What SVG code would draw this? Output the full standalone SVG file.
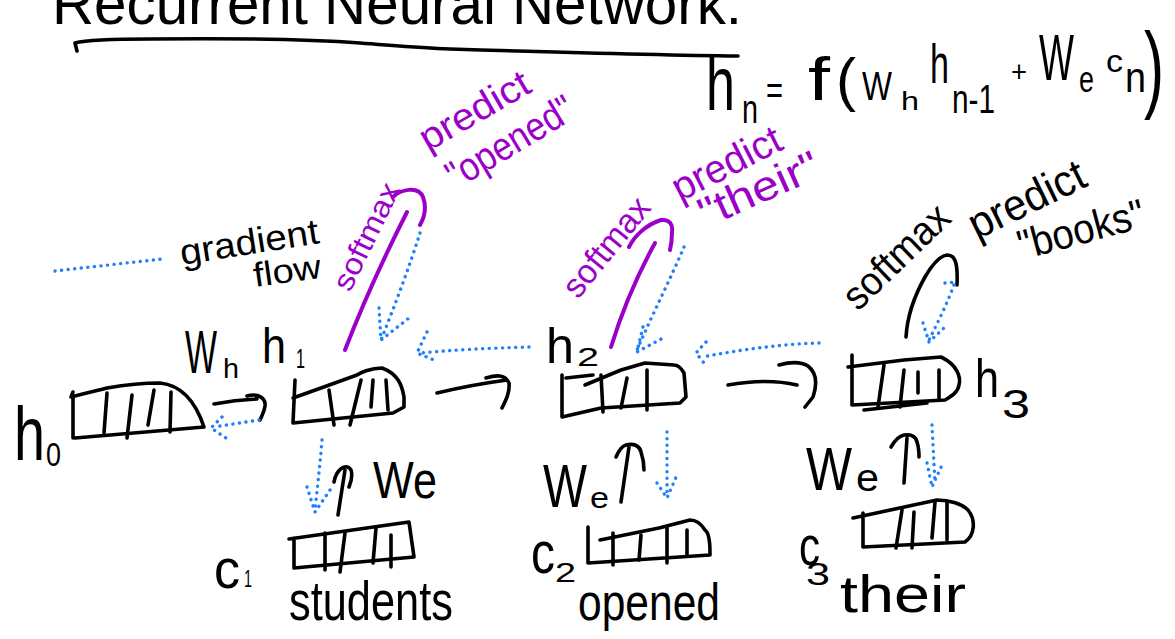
<svg xmlns="http://www.w3.org/2000/svg" width="1175" height="639" viewBox="0 0 1175 639">
<style>
text{font-family:"Liberation Sans",Arial,sans-serif;fill:#000}
.pt{fill:#9b00c8}
.k{fill:none;stroke:#000;stroke-width:3.6;stroke-linecap:round;stroke-linejoin:round}
.pu{fill:none;stroke:#9b00c8;stroke-width:4;stroke-linecap:round;stroke-linejoin:round}
.g{fill:none;stroke:#1e7fff;stroke-width:3.4;stroke-dasharray:0.1 6.5;stroke-linecap:round;stroke-linejoin:round}
</style>
<rect width="1175" height="639" fill="#fff"/>

<g id="title">
<text x="52" y="24" font-size="60" textLength="690" lengthAdjust="spacingAndGlyphs">Recurrent Neural Network:</text>
<path class="k" d="M77,51 L75,43 Q90,39 150,39 C250,38 320,40 360,43 C400,46 420,48 450,49 C550,52 650,55 738,56"/>
</g>

<g id="formula">
<text x="706" y="110" font-size="76" textLength="29" lengthAdjust="spacingAndGlyphs">h</text>
<text x="742" y="123" font-size="40" textLength="16" lengthAdjust="spacingAndGlyphs">n</text>
<text x="766" y="104" font-size="40" textLength="17" lengthAdjust="spacingAndGlyphs">=</text>
<text x="808" y="100" font-size="62" textLength="22" lengthAdjust="spacingAndGlyphs">f</text>
<text x="836" y="100" font-size="60" textLength="20" lengthAdjust="spacingAndGlyphs">(</text>
<text x="862" y="100" font-size="40" textLength="30" lengthAdjust="spacingAndGlyphs">W</text>
<text x="901" y="110" font-size="26" textLength="18" lengthAdjust="spacingAndGlyphs">h</text>
<text x="930" y="83" font-size="55" textLength="19" lengthAdjust="spacingAndGlyphs">h</text>
<text x="952" y="113" font-size="40" textLength="43" lengthAdjust="spacingAndGlyphs">n-1</text>
<text x="1011" y="82" font-size="30" textLength="16" lengthAdjust="spacingAndGlyphs">+</text>
<text x="1039" y="80" font-size="64" textLength="35" lengthAdjust="spacingAndGlyphs">W</text>
<text x="1079" y="92" font-size="36" textLength="15" lengthAdjust="spacingAndGlyphs">e</text>
<text x="1106" y="72" font-size="32" textLength="17" lengthAdjust="spacingAndGlyphs">c</text>
<text x="1125" y="92" font-size="42" textLength="21" lengthAdjust="spacingAndGlyphs">n</text>
<text x="1144" y="100" font-size="96" textLength="20" lengthAdjust="spacingAndGlyphs">)</text>
</g>

<g id="legend">
<path class="g" d="M55,271 L162,259"/>
<text transform="translate(182,265) rotate(-9)" font-size="36" textLength="140" lengthAdjust="spacingAndGlyphs">gradient</text>
<text transform="translate(255,287) rotate(-8)" font-size="34" textLength="68" lengthAdjust="spacingAndGlyphs">flow</text>
</g>

<g id="h0">
<path class="k" d="M71,397 L73,392 M73,398 L73,438 M71,397 C90,392 100,390 107,388 C130,384 150,383 160,383 C180,385 195,400 204,427 L75,438"/>
<path class="k" d="M107,393 L104,433 M132,395 L127,438 M154,390 L148,425 M171,392 L170,432"/>
<text x="14" y="460" font-size="76" textLength="31" lengthAdjust="spacingAndGlyphs">h</text>
<text x="46" y="466" font-size="34" textLength="15" lengthAdjust="spacingAndGlyphs">0</text>
</g>

<g id="h1">
<path class="k" d="M295,380 L293,423 L393,413 L404,407 L404,397 C402,385 398,374 382,368 C370,368 360,373 357,375 L321,388 L293,398"/>
<path class="k" d="M329,390 L334,425 M361,380 L350,425 M373,380 L371,407 M386,380 L388,410"/>
<text x="185" y="373" font-size="62" textLength="32" lengthAdjust="spacingAndGlyphs">W</text>
<text x="223" y="378" font-size="28" textLength="16" lengthAdjust="spacingAndGlyphs">h</text>
<text x="262" y="363" font-size="50" textLength="24" lengthAdjust="spacingAndGlyphs">h</text>
<text x="296" y="368" font-size="28" textLength="9" lengthAdjust="spacingAndGlyphs">1</text>
</g>

<g id="h2">
<path class="k" d="M566,378 L593,375 M562,375 L562,417 L601,408 L680,403 L686,397 L684,373 C680,366 676,365 674,365 L645,363 L621,370 L585,385"/>
<path class="k" d="M601,375 L603,412 M627,378 L621,408 M647,370 L647,410"/>
<text x="546" y="363" font-size="50" textLength="28" lengthAdjust="spacingAndGlyphs">h</text>
<text x="577" y="366" font-size="26" textLength="22" lengthAdjust="spacingAndGlyphs">2</text>
</g>

<g id="h3">
<path class="k" d="M852,355 L852,405 L945,400 C952,396 958,392 959,385 C961,378 958,365 941,357 L904,360 L848,367 M864,410 L927,403"/>
<path class="k" d="M884,365 L878,407 M904,370 L900,407 M918,372 L918,393 M939,370 L939,400"/>
<text x="975" y="397" font-size="54" textLength="24" lengthAdjust="spacingAndGlyphs">h</text>
<text x="1002" y="418" font-size="40" textLength="28" lengthAdjust="spacingAndGlyphs">3</text>
</g>

<g id="c1">
<path class="k" d="M289,539 L409,522 L414,557 L294,568 L294,538"/>
<path class="k" d="M325,533 L325,570 M345,533 L340,572 M376,528 L373,563 M391,535 L391,567"/>
<text x="214" y="588" font-size="56" textLength="26" lengthAdjust="spacingAndGlyphs">c</text>
<text x="244" y="587" font-size="24" textLength="8" lengthAdjust="spacingAndGlyphs">1</text>
<text x="289" y="620" font-size="56" textLength="164" lengthAdjust="spacingAndGlyphs">students</text>
<text x="373" y="498" font-size="52" textLength="64" lengthAdjust="spacingAndGlyphs">We</text>
</g>

<g id="c2">
<path class="k" d="M588,527 L588,563 L710,555 L710,553 C710,540 708,532 705,530 C700,522 694,520 690,520 L659,528 L600,540"/>
<path class="k" d="M613,533 L613,565 M641,535 L639,560 M667,527 L667,563 M687,530 L687,555"/>
<text x="531" y="573" font-size="60" textLength="24" lengthAdjust="spacingAndGlyphs">c</text>
<text x="555" y="582" font-size="28" textLength="21" lengthAdjust="spacingAndGlyphs">2</text>
<text x="578" y="620" font-size="52" textLength="142" lengthAdjust="spacingAndGlyphs">opened</text>
<text x="543" y="507" font-size="62" textLength="44" lengthAdjust="spacingAndGlyphs">W</text>
<text x="590" y="508" font-size="30" textLength="19" lengthAdjust="spacingAndGlyphs">e</text>
</g>

<g id="c3">
<path class="k" d="M853,518 L937,500 C950,500 962,504 968,510 C976,520 975,535 965,542 L863,547 L863,513"/>
<path class="k" d="M902,510 L896,548 M914,512 L912,548 M935,502 L932,538 M947,502 L947,540"/>
<text x="799" y="565" font-size="56" textLength="21" lengthAdjust="spacingAndGlyphs">c</text>
<text x="806" y="585" font-size="32" textLength="24" lengthAdjust="spacingAndGlyphs">3</text>
<text x="840" y="612" font-size="52" textLength="126" lengthAdjust="spacingAndGlyphs">their</text>
<text x="806" y="490" font-size="62" textLength="46" lengthAdjust="spacingAndGlyphs">W</text>
<text x="856" y="491" font-size="38" textLength="23" lengthAdjust="spacingAndGlyphs">e</text>
</g>

<g id="softmax1">
<text class="pt" transform="translate(350,293) rotate(-64)" font-size="30" textLength="116" lengthAdjust="spacingAndGlyphs">softmax</text>
<text class="pt" transform="translate(428,152) rotate(-30)" font-size="38" textLength="122" lengthAdjust="spacingAndGlyphs">predict</text>
<text class="pt" transform="translate(456,190) rotate(-31)" font-size="40" textLength="142" lengthAdjust="spacingAndGlyphs">"opened"</text>
</g>

<g id="softmax2">
<text class="pt" transform="translate(578,300) rotate(-51)" font-size="34" textLength="118" lengthAdjust="spacingAndGlyphs">softmax</text>
<text class="pt" transform="translate(680,202) rotate(-27)" font-size="40" textLength="118" lengthAdjust="spacingAndGlyphs">predict</text>
<text class="pt" transform="translate(706,228) rotate(-24)" font-size="42" textLength="128" lengthAdjust="spacingAndGlyphs">"their"</text>
</g>

<g id="softmax3">
<text transform="translate(858,312) rotate(-44)" font-size="40" textLength="132" lengthAdjust="spacingAndGlyphs">softmax</text>
<text transform="translate(977,240) rotate(-26)" font-size="44" textLength="125" lengthAdjust="spacingAndGlyphs">predict</text>
<text transform="translate(1022,260) rotate(-15)" font-size="42" textLength="130" lengthAdjust="spacingAndGlyphs">"books"</text>
</g>

<g id="connectors">
<path class="k" d="M214,404 Q235,400 257,399 M247,396 C258,393 266,398 265,406 C264,412 262,416 260,420"/>
<path class="k" d="M437,393 Q470,385 507,380 M486,378 C496,375 505,374 509,383 C510,392 506,400 502,408"/>
<path class="k" d="M728,385 Q767,378 797,385 M779,365 C790,362 800,361 808,366 C817,373 817,385 813,397 L805,407"/>
<path class="k" d="M338,515 L345,470 M334,482 C336,470 346,462 351,470 C353,476 351,482 349,487"/>
<path class="k" d="M621,502 L629,447 M616,457 C619,450 622,446 626,445 C634,443 640,446 641,452 C643,458 644,465 644,470"/>
<path class="k" d="M904,483 L907,438 M891,447 C895,440 899,436 904,435 C910,434 916,436 917,442 C919,448 919,452 919,457"/>
<path class="k" d="M906,337 C907,320 912,300 925,277 C932,265 940,256 947,255 C955,255 958,262 957,285"/>
<path class="pu" d="M345,350 Q370,285 407,212 M393,197 C400,190 418,185 423,197 C427,208 424,218 420,225"/>
<path class="pu" d="M611,347 Q628,292 655,243 M629,247 C634,237 645,225 661,220 C670,219 673,225 672,232 C672,240 671,246 670,250"/>
<path class="g" d="M259,420 L214,427 M222,417 L211,428 L226,438"/>
<path class="g" d="M529,347 C490,348 450,350 421,353 M427,332 L417,353 L434,360"/>
<path class="g" d="M420,233 C410,265 395,305 381,340 M379,308 L381,340 L409,318"/>
<path class="g" d="M322,440 C320,465 317,490 315,510 M307,487 L315,512 L330,490"/>
<path class="g" d="M819,343 C780,344 740,350 702,357 M706,342 L696,353 L704,363"/>
<path class="g" d="M684,247 C670,280 652,315 637,350 M643,327 L637,352 L663,338"/>
<path class="g" d="M667,432 L667,497 M657,483 L667,498 L677,475"/>
<path class="g" d="M945,283 L955,282 C948,302 938,322 929,340 M923,323 L929,342 L945,327"/>
<path class="g" d="M932,425 L935,483 M927,463 L932,487 L942,465"/>
</g>
</svg>
